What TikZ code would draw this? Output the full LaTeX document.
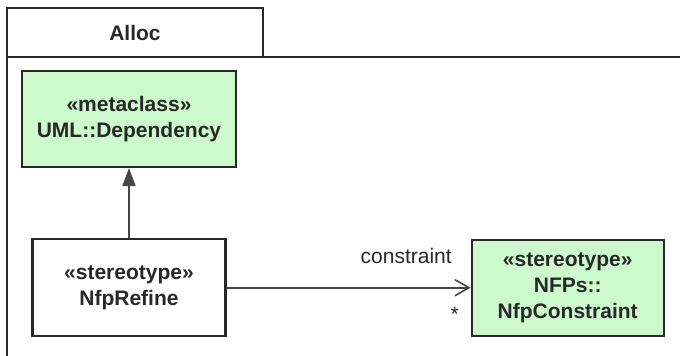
\documentclass[tikz,border=0pt]{standalone}
\usepackage{fontspec}
\setmainfont{Liberation Sans}
\usetikzlibrary{arrows.meta, positioning}
\definecolor{mygreen}{RGB}{204,250,204}
\definecolor{mydark}{RGB}{40,40,40}
\definecolor{myline}{RGB}{70,70,70}
\newcommand{\umlfont}{\fontsize{21}{26}\selectfont}
\tikzset{
  umlbox/.style={rectangle, draw=mydark, fill=white, line width=2.2pt,
    align=center, font=\umlfont\bfseries, text=mydark, inner sep=0pt},
  metabox/.style={umlbox, fill=mygreen, minimum width=214pt, minimum height=96pt},
  stereobox/.style={umlbox, minimum width=193pt, minimum height=97pt},
  greenstereo/.style={umlbox, fill=mygreen, minimum width=192pt, minimum height=96pt},
  tabbox/.style={umlbox, line width=2pt, minimum width=256pt, minimum height=49pt},
  frame/.style={draw=mydark, line width=2pt},
  extends/.style={-{Triangle[length=18pt, width=13pt]}, line width=2pt, color=myline},
  assoc/.style={-{Straight Barb[length=14pt, width=16pt, line width=1.6pt]}, line width=2pt, color=myline},
  rolelabel/.style={font=\umlfont, text=mydark, inner sep=0pt}
}
\begin{document}
\begin{tikzpicture}[x=1pt, y=-1pt]
  \clip (0,0) rectangle (680,356);
  \fill[white] (0,0) rectangle (680,356);

  % package frame
  \draw[frame] (7,57) rectangle (700,380);
  \node[tabbox] (tab) at (135,32.5) {Alloc};

  \node[metabox] (meta) at (129,119) {«metaclass»\\UML::Dependency};
  \node[stereobox, below=70pt of meta] (refine) {«stereotype»\\NfpRefine};
  \node[greenstereo, right=244pt of refine] (nfpc) {«stereotype»\\NFPs::\\NfpConstraint};

  \draw[extends] (refine) -- (meta);
  \draw[assoc] (refine) -- (nfpc)
    node[rolelabel, pos=0.736, anchor=base, yshift=24pt] (role) {constraint}
    node[rolelabel, pos=0.935, anchor=base, yshift=-34pt] (mult) {*};
\end{tikzpicture}
\end{document}
